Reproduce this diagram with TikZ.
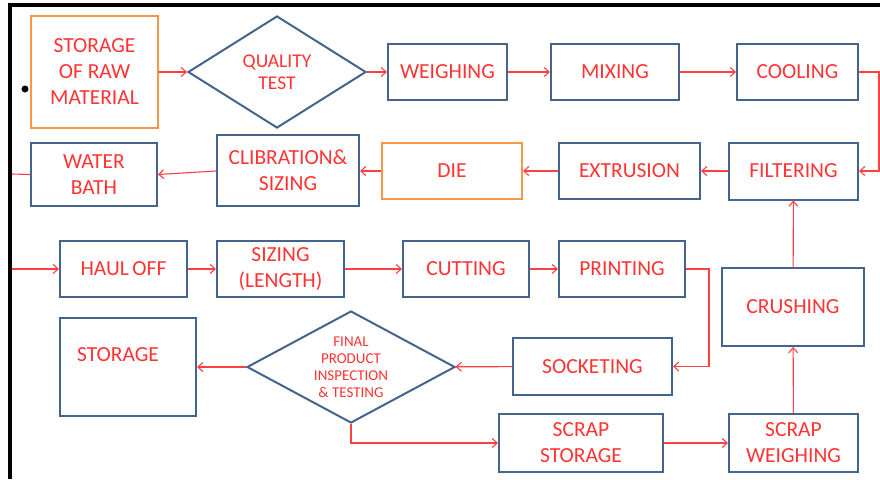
\documentclass[tikz,border=0pt]{standalone}
\usepackage{fontspec}
\setmainfont{Carlito}
\usetikzlibrary{shapes.geometric,arrows.meta}
\definecolor{boxblue}{HTML}{44648C}
\definecolor{boxorange}{HTML}{F79646}
\definecolor{txtred}{HTML}{FF3333}
\definecolor{linered}{HTML}{FF4040}

\begin{document}
\begin{tikzpicture}[x=1pt,y=-1pt,
    blk/.style={draw=boxblue,line width=2pt,inner sep=1pt,align=center,
      text=txtred,font=\fontsize{21.5}{26}\selectfont},
    oblk/.style={blk,draw=boxorange},
    dmd/.style={blk,shape=diamond,inner sep=0pt},
    flow/.style={draw=linered,line width=1.1pt,-{Straight Barb[length=5pt,width=9pt]}},
    plain/.style={draw=linered,line width=1.1pt}]
  \useasboundingbox (0,0) rectangle (880,479);
  % frame and dot
  \draw[line width=4.5pt] (10,479) -- (10,5) -- (880,5);
  \fill (25,89) circle (3.5);
  % row 1
  \node[oblk,minimum width=127,minimum height=112] (raw) at (94.5,72) {STORAGE\\OF RAW\\MATERIAL};
  \node[dmd,minimum width=178,minimum height=112,aspect=1.6,font=\fontsize{19.5}{22}\selectfont] (qtest) at (277,72) {QUALITY\\TEST};
  \node[blk,minimum width=119,minimum height=56] (weigh) at (447.5,72) {WEIGHING};
  \node[blk,minimum width=128,minimum height=56] (mix) at (615,72) {MIXING};
  \node[blk,minimum width=121,minimum height=56] (cool) at (797.5,72) {COOLING};
  % row 2
  \node[blk,minimum width=129,minimum height=57] (filter) at (793.5,171) {FILTERING};
  \node[blk,minimum width=141,minimum height=56] (extrude) at (629.5,171) {EXTRUSION};
  \node[oblk,minimum width=140,minimum height=56] (die) at (452,171) {DIE};
  \node[blk,minimum width=142,minimum height=71] (calib) at (288,170.5) {CLIBRATION\&\\SIZING};
  \node[blk,minimum width=126,minimum height=63] (bath) at (94,174.5) {WATER\\BATH};
  % row 3
  \node[blk,minimum width=127,minimum height=56] (hauloff) at (123.5,269) {HAUL\,OFF};
  \node[blk,minimum width=127,minimum height=56] (sizelen) at (280.5,269) {SIZING\\(LENGTH)};
  \node[blk,minimum width=126,minimum height=56] (cut) at (466,269) {CUTTING};
  \node[blk,minimum width=126,minimum height=56] (print) at (622,269) {PRINTING};
  \node[blk,minimum width=142,minimum height=78] (crush) at (793,307) {CRUSHING};
  % row 4
  \node[blk,minimum width=159,minimum height=57] (socket) at (592.5,366.5) {SOCKETING};
  \node[dmd,minimum width=208,minimum height=112,aspect=1.86,font=\fontsize{15}{17}\selectfont] (final) at (351,367) {FINAL\\PRODUCT\\INSPECTION\\\&\ TESTING};
  \node[blk,minimum width=136,minimum height=98] (store) at (128,367) {};
  \node[text=txtred,font=\fontsize{21.5}{26}\selectfont] (storelbl) at (118,355) {STORAGE};
  % row 5
  \node[blk,minimum width=164,minimum height=58] (scrapstore) at (581,443) {SCRAP\\STORAGE};
  \node[blk,minimum width=129,minimum height=58] (scrapweigh) at (793.5,443) {SCRAP\\WEIGHING};
  % free ends
  \coordinate (cornerR) at (879,72);
  \coordinate (leftA) at (12,174);
  \coordinate (leftB) at (12,269);
  \coordinate (printR) at (709,269);
  % connectors
  \draw[flow] (raw) -- (qtest);
  \draw[flow] (qtest) -- (weigh);
  \draw[flow] (weigh) -- (mix);
  \draw[flow] (mix) -- (cool);
  \draw[flow] (cool.east) -- (cornerR) |- (filter.east);
  \draw[flow] (filter) -- (extrude);
  \draw[flow] (extrude) -- (die);
  \draw[flow] (die) -- (calib.east |- die);
  \draw[flow] (calib.west |- die) -- (bath.east);
  \draw[plain] (bath.west) -- (leftA);
  \draw[flow] (leftB) -- (hauloff.west);
  \draw[flow] (hauloff) -- (sizelen);
  \draw[flow] (sizelen) -- (cut);
  \draw[flow] (cut) -- (print);
  \draw[flow] (print.east) -- (printR) |- (socket.east);
  \draw[flow] (socket) -- (final);
  \draw[flow] (final) -- (store);
  \draw[flow] (final.south) |- (scrapstore.west);
  \draw[flow] (scrapstore) -- (scrapweigh);
  \draw[flow] (scrapweigh) -- (crush);
  \draw[flow] (crush) -- (filter);
\end{tikzpicture}
\end{document}
